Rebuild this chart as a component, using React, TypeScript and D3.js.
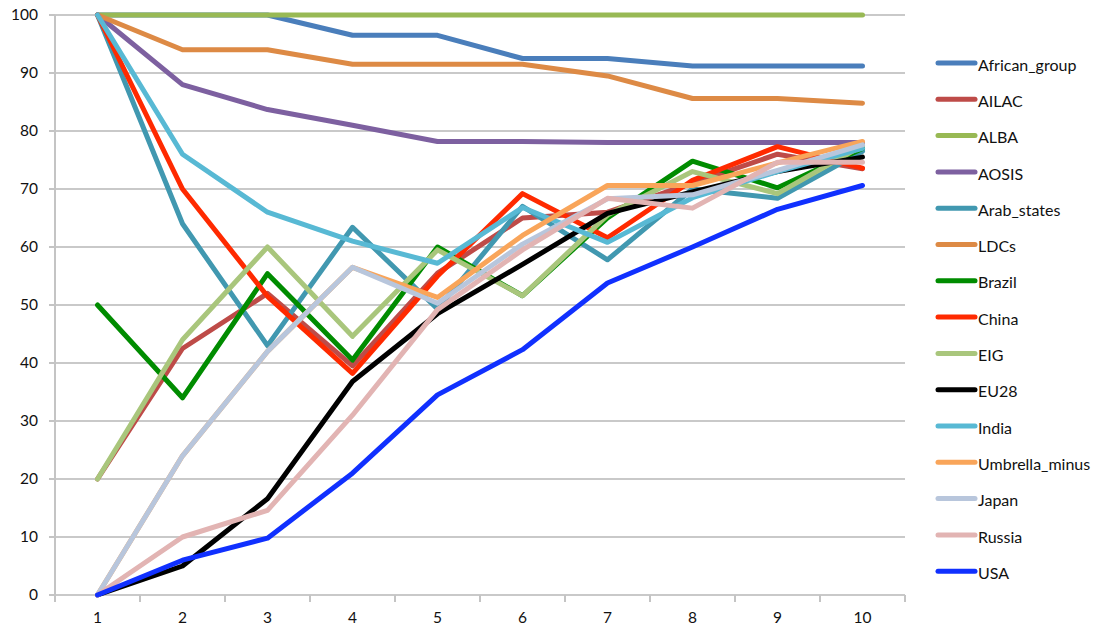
import React from "react";
import * as d3 from "d3";

const categories = ["1", "2", "3", "4", "5", "6", "7", "8", "9", "10"];
const yTicks = [0, 10, 20, 30, 40, 50, 60, 70, 80, 90, 100];

const seriesNames = [
  "African_group", "AILAC", "ALBA", "AOSIS", "Arab_states", "LDCs", "Brazil", "China",
  "EIG", "EU28", "India", "Umbrella_minus", "Japan", "Russia", "USA",
];

const africanGroup = [100, 100, 100, 96.5, 96.5, 92.5, 92.5, 91.2, 91.2, 91.2];
const ailac = [20, 42.5, 52, 39.5, 55.5, 65, 66, 71, 76, 73.5];
const alba = [100, 100, 100, 100, 100, 100, 100, 100, 100, 100];
const aosis = [100, 88, 83.7, 81, 78.2, 78.2, 78, 78, 78, 78];
const arabStates = [100, 64, 43, 63.4, 49.3, 67, 57.8, 70, 68.4, 76.5];
const ldcs = [100, 94, 94, 91.5, 91.5, 91.5, 89.5, 85.6, 85.6, 84.8];
const brazil = [50, 34, 55.4, 40.5, 60, 51.6, 65, 74.8, 70.2, 77];
const china = [100, 70, 51.5, 38.2, 55, 69.2, 61.6, 71.5, 77.3, 73.6];
const eig = [20, 44, 60, 44.6, 59.5, 51.6, 65.5, 73, 69.2, 77.5];
const eu28 = [0, 5, 16.6, 36.8, 48.5, 57, 65.8, 69.5, 73, 75.5];
const india = [100, 76, 66, 61, 57.2, 66.8, 60.8, 68.5, 73, 77];
const umbrellaMinus = [0, 24, 42, 56.5, 51.3, 62, 70.6, 70.6, 74.5, 78.2];
const japan = [0, 24, 42, 56.5, 50.3, 60.5, 68.3, 69, 73.2, 77.6];
const russia = [0, 10, 14.6, 31, 49.2, 59.5, 68.4, 66.7, 74.6, 74.6];
const usa = [0, 6, 9.8, 21, 34.5, 42.3, 53.8, 60, 66.5, 70.6];

const seriesValues = [
  africanGroup, ailac, alba, aosis, arabStates, ldcs, brazil, china,
  eig, eu28, india, umbrellaMinus, japan, russia, usa,
];

const seriesColors = [
  "#4a7ebb", "#be4b48", "#98b954", "#7d60a0", "#4198b0", "#dd8a45", "#008c00", "#ff2a00",
  "#a9c67c", "#000000", "#58b9d4", "#f9a55a", "#b8c6dc", "#e2b4b3", "#1030ff",
];

const W = 1105;
const H = 626;
const margin = { left: 55, right: 200, top: 15, bottom: 31 };
const FONT = "Lato, 'Open Sans', sans-serif";

export default function App() {
  const x = d3
    .scaleBand<string>()
    .domain(categories)
    .range([margin.left, W - margin.right])
    .paddingInner(0)
    .paddingOuter(0);
  const y = d3
    .scaleLinear()
    .domain([0, 100])
    .range([H - margin.bottom, margin.top]);

  const cx = (i: number) => (x(categories[i]) as number) + x.bandwidth() / 2;
  const line = d3
    .line<number>()
    .x((_, i) => cx(i))
    .y((d) => y(d))
    .curve(d3.curveLinear);

  const bounds = categories.map((c) => x(c) as number).concat([W - margin.right]);

  const legendX = 936;
  const legendY0 = 63;
  const legendStep = 36.3;

  return (
    <svg
      width={W}
      height={H}
      style={{ position: "absolute", left: 0, top: 0, background: "#fff" }}
      fontFamily={FONT}
    >
      {/* grid */}
      {yTicks.map((t) => (
        <line
          key={"g" + t}
          x1={margin.left}
          x2={W - margin.right}
          y1={y(t)}
          y2={y(t)}
          stroke="#c9c9c9"
          strokeWidth={2}
        />
      ))}
      {/* y axis */}
      <line
        x1={margin.left}
        x2={margin.left}
        y1={y(0)}
        y2={y(100)}
        stroke="#c4c4c4"
        strokeWidth={2}
      />
      {yTicks.map((t) => (
        <g key={"yt" + t}>
          <line x1={margin.left - 6} x2={margin.left} y1={y(t)} y2={y(t)} stroke="#c4c4c4" strokeWidth={2} />
          <text
            x={margin.left - 17}
            y={y(t)}
            dy="0.35em"
            textAnchor="end"
            fontSize={15.5}
            fill="#111"
          >
            {t}
          </text>
        </g>
      ))}
      {/* x axis */}
      {bounds.map((b, i) => (
        <line key={"xt" + i} x1={b} x2={b} y1={y(0)} y2={y(0) + 7} stroke="#c4c4c4" strokeWidth={2} />
      ))}
      {categories.map((c, i) => (
        <text
          key={"xl" + c}
          x={cx(i)}
          y={y(0) + 23}
          dy="0.35em"
          textAnchor="middle"
          fontSize={15.5}
          fill="#111"
        >
          {c}
        </text>
      ))}
      {/* series */}
      {seriesValues.map((vals, si) => (
        <path
          key={"s" + si}
          d={line(vals) as string}
          fill="none"
          stroke={seriesColors[si]}
          strokeWidth={5}
          strokeLinejoin="round"
          strokeLinecap="round"
        />
      ))}
      {/* legend */}
      {seriesNames.map((n, i) => (
        <g key={"l" + n} transform={`translate(${legendX},${legendY0 + i * legendStep})`}>
          <line x1={2} x2={39} y1={0} y2={0} stroke={seriesColors[i]} strokeWidth={5} strokeLinecap="round" />
          <text x={42} y={2} dy="0.35em" fontSize={16} fill="#111">
            {n}
          </text>
        </g>
      ))}
    </svg>
  );
}
